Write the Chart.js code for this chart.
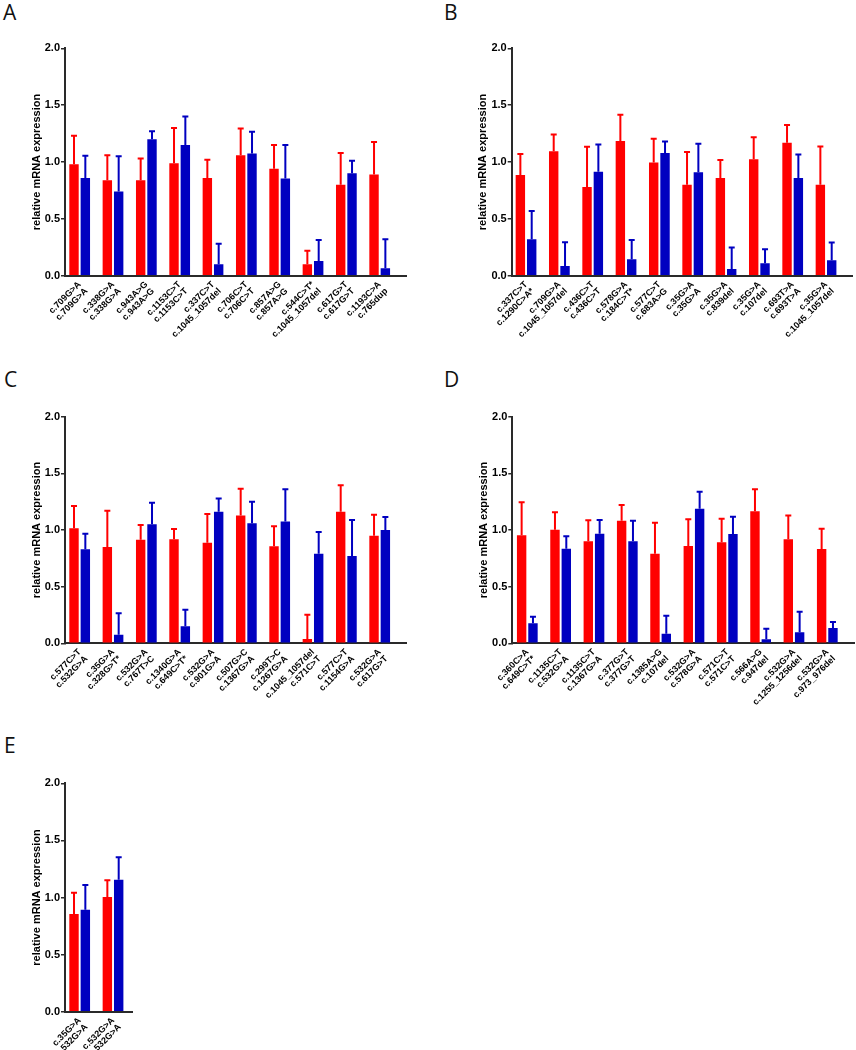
<!DOCTYPE html>
<html>
<head>
<meta charset="utf-8">
<script src="https://cdn.jsdelivr.net/npm/chart.js@4.4.1/dist/chart.umd.min.js"></script>
<style>
  html, body { margin: 0; padding: 0; background: #fff; }
  #page { position: relative; width: 856px; height: 1050px; overflow: hidden; }
  canvas { position: absolute; }
  .letter { position: absolute; font-family: "Open Sans", sans-serif; font-size: 21px; line-height: 1; color: #111; }
</style>
</head>
<body>
<div id="page">
  <div class="letter" style="left:3px;top:2px">A</div>
  <div class="letter" style="left:444px;top:2px">B</div>
  <div class="letter" style="left:4px;top:369px">C</div>
  <div class="letter" style="left:444px;top:369px">D</div>
  <div class="letter" style="left:4px;top:735px">E</div>
  <canvas id="chartA" width="428" height="368" style="left:0;top:0"></canvas>
  <canvas id="chartB" width="428" height="368" style="left:428px;top:0"></canvas>
  <canvas id="chartC" width="428" height="367" style="left:0;top:368px"></canvas>
  <canvas id="chartD" width="428" height="367" style="left:428px;top:368px"></canvas>
  <canvas id="chartE" width="428" height="315" style="left:0;top:735px"></canvas>
</div>
<script>
// y axis ticks shared by all panels
const yTicks = [0, 0.5, 1.0, 1.5, 2.0];

// panel A
const labelsA = [
  ['c.709G>A', 'c.709G>A'], ['c.338G>A', 'c.338G>A'], ['c.943A>G', 'c.943A>G'],
  ['c.1153C>T', 'c.1153C>T'], ['c.337C>T', 'c.1045_1057del'], ['c.706C>T', 'c.706C>T'],
  ['c.857A>G', 'c.857A>G'], ['c.544C>T*', 'c.1045_1057del'], ['c.617G>T', 'c.617G>T'],
  ['c.1193C>A', 'c.765dup']
];
const redA = [0.98, 0.84, 0.84, 0.99, 0.86, 1.06, 0.94, 0.10, 0.80, 0.89];
const redErrA = [0.25, 0.22, 0.19, 0.31, 0.16, 0.235, 0.21, 0.12, 0.28, 0.285];
const blueA = [0.86, 0.74, 1.20, 1.15, 0.10, 1.075, 0.855, 0.13, 0.90, 0.065];
const blueErrA = [0.195, 0.31, 0.07, 0.25, 0.18, 0.19, 0.295, 0.185, 0.11, 0.255];

// panel B
const labelsB = [
  ['c.337C>T', 'c.1290C>A*'], ['c.709G>A', 'c.1045_1057del'], ['c.436C>T', 'c.436C>T'],
  ['c.578G>A', 'c.184C>T*'], ['c.577C>T', 'c.683A>G'], ['c.35G>A', 'c.35G>A'],
  ['c.35G>A', 'c.839del'], ['c.35G>A', 'c.107del'], ['c.693T>A', 'c.693T>A'],
  ['c.35G>A', 'c.1045_1057del']
];
const redB = [0.885, 1.095, 0.78, 1.185, 0.995, 0.80, 0.86, 1.025, 1.17, 0.80];
const redErrB = [0.185, 0.147, 0.355, 0.23, 0.21, 0.287, 0.158, 0.193, 0.155, 0.337];
const blueB = [0.32, 0.085, 0.915, 0.145, 1.08, 0.91, 0.06, 0.11, 0.86, 0.135];
const blueErrB = [0.25, 0.21, 0.24, 0.17, 0.10, 0.25, 0.187, 0.123, 0.205, 0.158];

// panel C
const labelsC = [
  ['c.577C>T', 'c.532G>A'], ['c.35G>A', 'c.328G>T*'], ['c.532G>A', 'c.767T>C'],
  ['c.1340G>A', 'c.649C>T*'], ['c.532G>A', 'c.901G>A'], ['c.507G>C', 'c.1367G>A'],
  ['c.299T>C', 'c.1267G>A'], ['c.1045_1057del', 'c.571C>T'], ['c.577C>T', 'c.1154G>A'],
  ['c.532G>A', 'c.617G>T']
];
const redC = [1.015, 0.85, 0.915, 0.918, 0.888, 1.129, 0.856, 0.038, 1.162, 0.95];
const redErrC = [0.197, 0.32, 0.129, 0.091, 0.253, 0.236, 0.176, 0.215, 0.232, 0.185];
const blueC = [0.829, 0.076, 1.05, 0.15, 1.162, 1.059, 1.074, 0.791, 0.771, 1.0];
const blueErrC = [0.139, 0.189, 0.191, 0.147, 0.117, 0.191, 0.285, 0.191, 0.317, 0.115];

// panel D
const labelsD = [
  ['c.360C>A', 'c.649C>T*'], ['c.1135C>T', 'c.532G>A'], ['c.1135C>T', 'c.1367G>A'],
  ['c.377G>T', 'c.377G>T'], ['c.1385A>G', 'c.107del'], ['c.532G>A', 'c.578G>A'],
  ['c.571C>T', 'c.571C>T'], ['c.566A>G', 'c.947del'], ['c.532G>A', 'c.1255_1256del'],
  ['c.532G>A', 'c.973_976del']
];
const redD = [0.953, 1.003, 0.90, 1.082, 0.791, 0.859, 0.891, 1.165, 0.918, 0.832];
const redErrD = [0.291, 0.153, 0.185, 0.138, 0.274, 0.235, 0.209, 0.194, 0.211, 0.18];
const blueD = [0.176, 0.835, 0.968, 0.90, 0.085, 1.188, 0.965, 0.035, 0.097, 0.135];
const blueErrD = [0.059, 0.109, 0.12, 0.182, 0.159, 0.15, 0.153, 0.094, 0.182, 0.053];

// panel E
const labelsE = [['c.35G>A', 'c.532G>A'], ['c.532G>A', 'c.532G>A']];
const redE = [0.855, 1.004];
const redErrE = [0.187, 0.146];
const blueE = [0.893, 1.156];
const blueErrE = [0.216, 0.196];

const RED = '#ff0000';
const BLUE = '#0000c0';
const AXIS = '#2a2a2a';
const FONT = '"Liberation Sans", Arial, sans-serif';

// upward error bars with a small cap, drawn from each bar's top
const errorBars = {
  id: 'errorBars',
  afterDatasetsDraw(chart) {
    const ctx = chart.ctx;
    const yScale = chart.scales.y;
    chart.data.datasets.forEach((ds, di) => {
      const meta = chart.getDatasetMeta(di);
      ctx.save();
      ctx.strokeStyle = ds.backgroundColor;
      ctx.lineWidth = 2;
      meta.data.forEach((bar, i) => {
        const top = yScale.getPixelForValue(ds.data[i].y + ds.errors[i]);
        ctx.beginPath();
        ctx.moveTo(bar.x, bar.y);
        ctx.lineTo(bar.x, top);
        ctx.moveTo(bar.x - 3, top);
        ctx.lineTo(bar.x + 3, top);
        ctx.stroke();
      });
      ctx.restore();
    });
  }
};

// geo: canvas box (cx, cy, w, h) and wanted plot area (left, top, right, bottom) in page pixels
function makePanel(id, geo, labels, red, redErr, blue, blueErr) {
  const canvas = document.getElementById(id);
  const padLeft = geo.left - geo.cx - 39;
  new Chart(canvas, {
    type: 'bar',
    data: {
      datasets: [
        {
          data: red.map((v, i) => ({ x: i, y: v })),
          errors: redErr,
          backgroundColor: RED,
          categoryPercentage: 0.68,
          barPercentage: 0.83
        },
        {
          data: blue.map((v, i) => ({ x: i, y: v })),
          errors: blueErr,
          backgroundColor: BLUE,
          categoryPercentage: 0.68,
          barPercentage: 0.83
        }
      ]
    },
    options: {
      responsive: false,
      animation: false,
      devicePixelRatio: 1,
      layout: {
        padding: {
          left: padLeft,
          top: geo.top - geo.cy,
          right: geo.cx + geo.w - geo.right,
          bottom: 0
        }
      },
      plugins: { legend: { display: false }, tooltip: { enabled: false } },
      scales: {
        x: {
          type: 'linear',
          offset: false,
          min: geo.xMin,
          max: geo.xMax,
          afterBuildTicks: (scale) => { scale.ticks = labels.map((_, i) => ({ value: i })); },
          afterFit: (scale) => { scale.height = geo.cy + geo.h - geo.bottom; },
          grid: { display: false, drawTicks: false, offset: false },
          border: { display: true, color: AXIS, width: 2 },
          ticks: {
            autoSkip: false,
            minRotation: 45,
            maxRotation: 45,
            padding: 4,
            color: '#000',
            font: { family: FONT, size: 9, weight: 'bold', lineHeight: 1.05 },
            callback: (v) => labels[v]
          }
        },
        y: {
          min: 0,
          max: 2,
          afterBuildTicks: (scale) => { scale.ticks = yTicks.map((v) => ({ value: v })); },
          afterFit: (scale) => { scale.width = 39; },
          grid: { drawOnChartArea: false, drawTicks: true, tickLength: 4, color: AXIS, lineWidth: 1.5 },
          border: { display: true, color: AXIS, width: 2 },
          ticks: {
            padding: 1,
            color: '#000',
            font: { family: FONT, size: 11, weight: 'bold' },
            callback: (v) => v.toFixed(1)
          },
          title: {
            display: true,
            text: 'relative mRNA expression',
            color: '#000',
            padding: { top: 4, bottom: 0 },
            font: { family: FONT, size: 11, weight: 'bold' }
          }
        }
      }
    },
    plugins: [errorBars]
  });
}

makePanel('chartA', { cx: 0, cy: 0, w: 428, h: 368, left: 65, top: 48.3, right: 406.7, bottom: 275.7, xMin: -0.44, xMax: 9.81 },
  labelsA, redA, redErrA, blueA, blueErrA);
makePanel('chartB', { cx: 428, cy: 0, w: 428, h: 368, left: 511.7, top: 48.3, right: 852.7, bottom: 275.7, xMin: -0.43, xMax: 9.8 },
  labelsB, redB, redErrB, blueB, blueErrB);
makePanel('chartC', { cx: 0, cy: 368, w: 428, h: 367, left: 65, top: 416.7, right: 406.7, bottom: 643.3, xMin: -0.44, xMax: 9.81 },
  labelsC, redC, redErrC, blueC, blueErrC);
makePanel('chartD', { cx: 428, cy: 368, w: 428, h: 367, left: 512.3, top: 416.7, right: 854.3, bottom: 643.3, xMin: -0.45, xMax: 9.81 },
  labelsD, redD, redErrD, blueD, blueErrD);
makePanel('chartE', { cx: 0, cy: 735, w: 428, h: 315, left: 65, top: 783.3, right: 132.7, bottom: 1011.7, xMin: -0.44, xMax: 1.59 },
  labelsE, redE, redErrE, blueE, blueErrE);
</script>
</body>
</html>
